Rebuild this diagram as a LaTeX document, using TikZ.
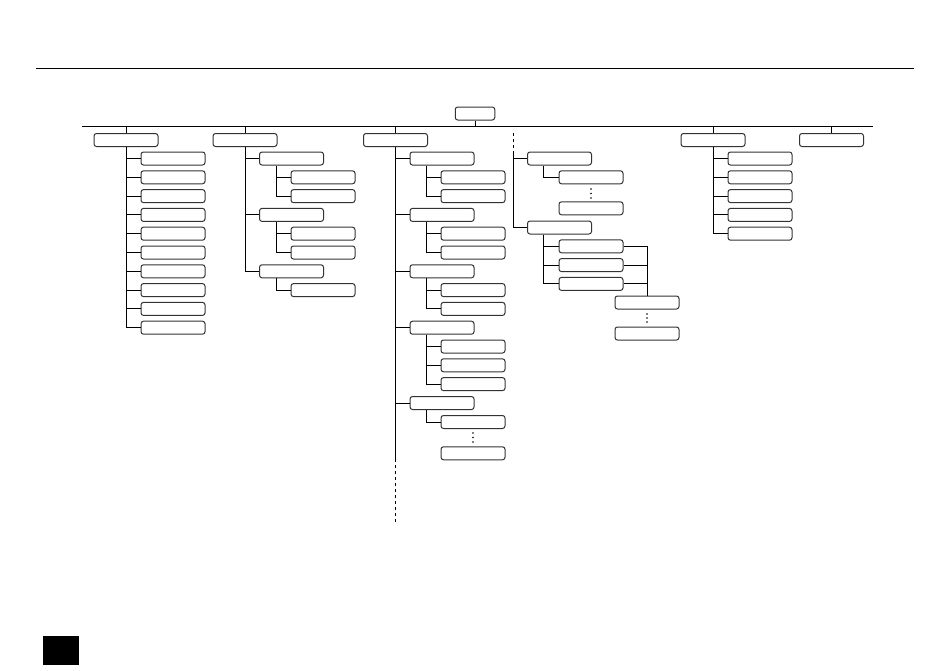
\documentclass[tikz,border=0pt]{standalone}
\usetikzlibrary{calc}
\begin{document}
\begin{tikzpicture}[x=1pt,y=-1pt,
  bx/.style={draw=black!80, line width=1pt, rounded corners=2.5pt, minimum width=64pt, minimum height=13pt, inner sep=0pt, fill=white},
  rootbx/.style={bx, minimum width=39.5pt},
  conn/.style={line width=1pt, black},
  dashconn/.style={conn, dash pattern=on 3pt off 3pt},
  dotmark/.style={circle, fill=black, inner sep=0pt, minimum size=1.7pt}]
\useasboundingbox (0,0) rectangle (950,670);
% top rule and page tab
\coordinate (tl) at (36,68.3);
\coordinate (tr) at (914,68.3);
\draw[conn] (tl) -- (tr);
\node[fill=black, minimum width=36pt, minimum height=29pt, inner sep=0pt, anchor=north west] (tab) at (43,636) {};
% root and bar
\node[rootbx] (root) at (475,113.5) {};
\coordinate (barL) at (82,126.5);
\coordinate (barR) at (873,126.5);
\draw[conn] (barL) -- (barR);
\draw[conn] (root.south) -- (root.south |- barL);
% level 1
\node[bx] (a) at (126,140) {};
\node[bx] (b) at (245,140) {};
\node[bx] (c) at (395.5,140) {};
\node[bx] (e) at (713,140) {};
\node[bx] (f) at (831.5,140) {};
\foreach \n in {a,b,c,e,f} \draw[conn] (\n.north) -- (\n.north |- barL);
% column a
\foreach \k in {0,...,9} {
  \node[bx] (a\k) at (173,{158.5+18.8*\k}) {};
  \draw[conn] (a.south) |- (a\k.west);
}
% column b
\node[bx] (b1) at (291.5,158.5) {};
\node[bx] (b2) at (291.5,214.9) {};
\node[bx] (b3) at (291.5,271.3) {};
\node[bx] (b11) at (323,177.3) {};
\node[bx] (b12) at (323,196.1) {};
\node[bx] (b21) at (323,233.7) {};
\node[bx] (b22) at (323,252.5) {};
\node[bx] (b31) at (323,290.1) {};
\foreach \k in {1,2,3} \draw[conn] (b.south) |- (b\k.west);
\draw[conn] ($(b1.south west)+(17.5,0)$) |- (b11.west);
\draw[conn] ($(b1.south west)+(17.5,0)$) |- (b12.west);
\draw[conn] ($(b2.south west)+(17.5,0)$) |- (b21.west);
\draw[conn] ($(b2.south west)+(17.5,0)$) |- (b22.west);
\draw[conn] ($(b3.south west)+(17.5,0)$) |- (b31.west);
% column c
\node[bx] (c1) at (442,158.5) {};
\node[bx] (c2) at (442,214.9) {};
\node[bx] (c3) at (442,271.3) {};
\node[bx] (c4) at (442,327.7) {};
\node[bx] (c5) at (442,403) {};
\node[bx] (c11) at (473,177.3) {};
\node[bx] (c12) at (473,196.1) {};
\node[bx] (c21) at (473,233.7) {};
\node[bx] (c22) at (473,252.5) {};
\node[bx] (c31) at (473,290.1) {};
\node[bx] (c32) at (473,308.9) {};
\node[bx] (c41) at (473,346.5) {};
\node[bx] (c42) at (473,365.3) {};
\node[bx] (c43) at (473,384.1) {};
\node[bx] (c51) at (473,422) {};
\node[bx] (c52) at (473,453.3) {};
\node[dotmark] (cd1) at (473,433) {};
\node[dotmark] (cd2) at (473,437.5) {};
\node[dotmark] (cd3) at (473,442) {};
\coordinate (cend) at (395.5,459);
\coordinate (cdash) at (395.5,521.5);
\draw[conn] (c.south) -- (cend);
\draw[dashconn] (cend) -- (cdash);
\foreach \k in {1,...,5} \draw[conn] (c.south) |- (c\k.west);
\foreach \p/\q in {1/1,1/2,2/1,2/2,3/1,3/2,4/1,4/2,4/3,5/1}
  \draw[conn] ($(c\p.south west)+(17,0)$) |- (c\p\q.west);
% column d
\coordinate (d0) at (513,133);
\coordinate (d1) at (513,152);
\node[bx] (dA) at (559.5,158.5) {};
\node[bx] (dB) at (559.5,227.5) {};
\node[bx] (dA1) at (591,177.3) {};
\node[bx] (dA2) at (591,208.3) {};
\node[bx] (dB1) at (591,246.3) {};
\node[bx] (dB2) at (591,265.1) {};
\node[bx] (dB3) at (591,283.9) {};
\node[bx] (dC1) at (647,302.5) {};
\node[bx] (dC2) at (647,333.5) {};
\node[dotmark] (dd1) at (591,189) {};
\node[dotmark] (dd2) at (591,193.5) {};
\node[dotmark] (dd3) at (591,198) {};
\node[dotmark] (de1) at (647,314) {};
\node[dotmark] (de2) at (647,318) {};
\node[dotmark] (de3) at (647,322) {};
\draw[dashconn] (d0) -- (d1);
\draw[conn] (d1) |- (dA.west);
\draw[conn] (d1) |- (dB.west);
\draw[conn] ($(dA.south west)+(16.5,0)$) |- (dA1.west);
\foreach \k in {1,2,3} \draw[conn] ($(dB.south west)+(16.5,0)$) |- (dB\k.west);
\draw[conn] (dB1.east) -| (dC1.north);
\draw[conn] (dB2.east) -- (dB2.east -| dC1.north);
\draw[conn] (dB3.east) -- (dB3.east -| dC1.north);
% column e
\foreach \k in {0,...,4} {
  \node[bx] (e\k) at (760,{158.5+18.8*\k}) {};
  \draw[conn] (e.south) |- (e\k.west);
}
\end{tikzpicture}
\end{document}
